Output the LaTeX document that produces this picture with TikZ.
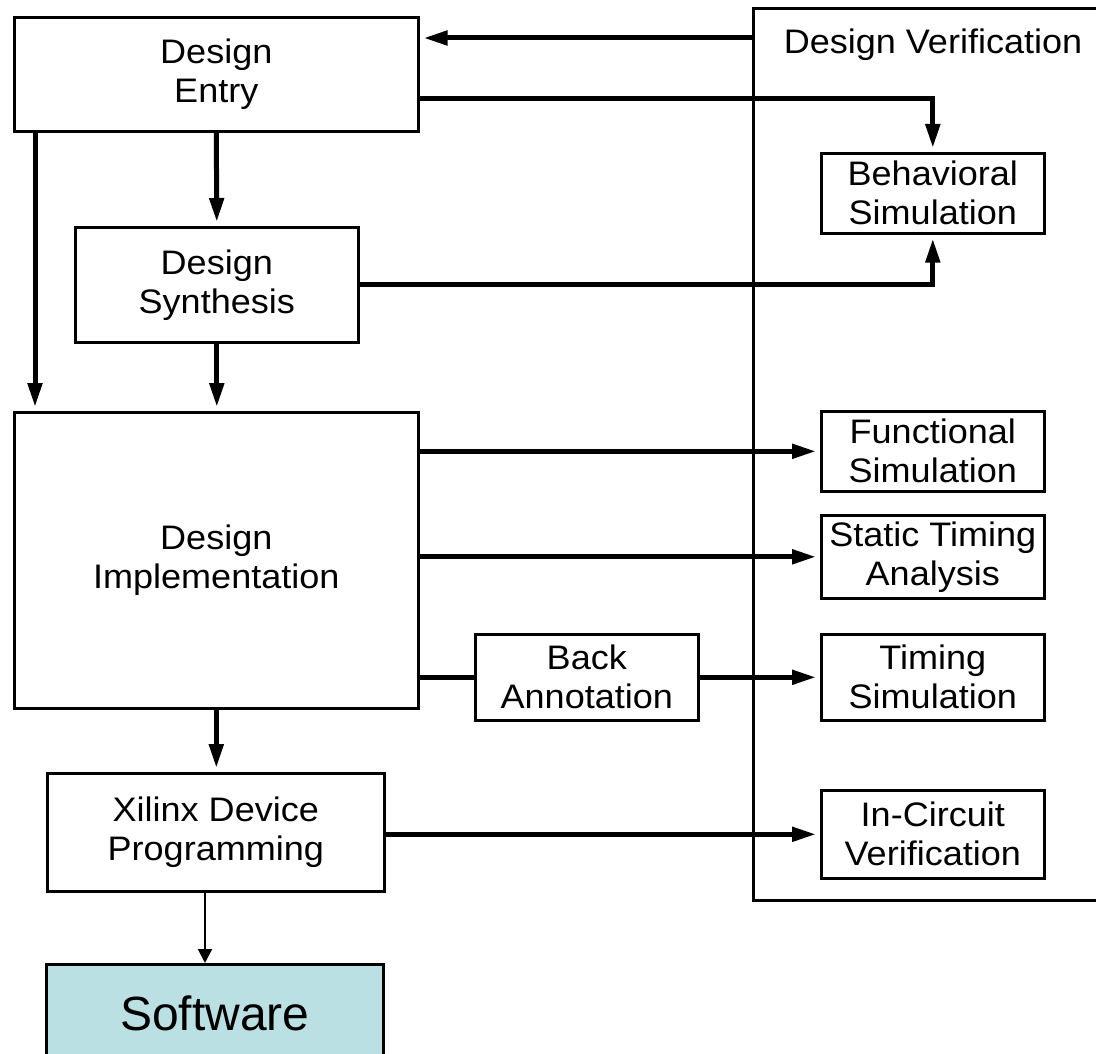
\documentclass[tikz,border=0pt]{standalone}
\usepackage{fontspec}
\setmainfont{Liberation Sans}[FakeStretch=1.06]
\newfontfamily\swfont{Liberation Sans}
\usetikzlibrary{arrows.meta}
\definecolor{swfill}{RGB}{187,224,227}
\tikzset{
  box/.style={draw=black, line width=2.6pt, anchor=north west, inner sep=0pt,
    align=center, font=\fontsize{34}{39}\selectfont},
  flow/.style={line width=5pt, -{Triangle[length=24pt,width=14pt]}, shorten >=4pt},
  flowplain/.style={line width=5pt},
  thinflow/.style={line width=2pt, -{Triangle[length=14pt,width=14pt]}}
}
\begin{document}
\begin{tikzpicture}[x=1pt, y=-1pt]
\clip (0,0) rectangle (1096,1054);
\fill[white] (0,0) rectangle (1096,1054);

% verification frame and its label
\node[box, line width=3pt, minimum width=348pt, minimum height=892pt] (dv) at (752,7) {};
\node[font=\fontsize{34}{39}\selectfont, inner sep=0pt] (dvlabel) at (933,45) {Design Verification};

% main flow blocks
\node[box, minimum width=404pt, minimum height=114pt] (de) at (13,16) {Design\\Entry};
\node[box, minimum width=283pt, minimum height=115pt] (syn) at (74,226) {Design\\Synthesis};
\node[box, minimum width=404pt, minimum height=296pt] (impl) at (13,411) {Design\\Implementation};
\node[box, minimum width=337pt, minimum height=118pt] (xil) at (46,772) {Xilinx Device\\Programming};
\node[box, fill=swfill, minimum width=337pt, minimum height=99pt, font=\swfont\fontsize{48}{52}\selectfont] (sw) at (45,963) {\raisebox{2pt}{Software}};
\node[box, minimum width=223pt, minimum height=86pt] (back) at (474,633) {Back\\Annotation};

% verification steps
\node[box, minimum width=223pt, minimum height=80pt] (beh) at (820,152) {Behavioral\\Simulation};
\node[box, minimum width=223pt, minimum height=80pt] (fun) at (820,410) {Functional\\Simulation};
\node[box, minimum width=223pt, minimum height=83pt] (sta) at (820,514) {Static Timing\\Analysis};
\node[box, minimum width=223pt, minimum height=86pt] (tim) at (820,633) {Timing\\Simulation};
\node[box, minimum width=223pt, minimum height=88pt] (inc) at (820,789) {In-Circuit\\Verification};

% connectors
\draw[flow] (dv.west |- 0,38) -- (de.east |- 0,38);
\draw[flow] (de.east |- 0,99) -| (beh.north);
\draw[flow] (de.south) -- (syn.north);
\draw[flow] (de.south -| 35,0) -- (impl.north -| 35,0);
\draw[flow] (syn.east) -| (beh.south);
\draw[flow] (syn.south) -- (impl.north -| syn.south);
\draw[flow] (impl.east |- fun.west) -- (fun.west);
\draw[flow] (impl.east |- sta.west) -- (sta.west);
\draw[flowplain] (impl.east |- back.west) -- (back.west);
\draw[flow] (back.east) -- (tim.west);
\draw[flow] (impl.south) -- (xil.north -| impl.south);
\draw[flow] (xil.east |- inc.west) -- (inc.west);
\draw[thinflow] (xil.south -| 205,0) -- (sw.north -| 205,0);
\end{tikzpicture}
\end{document}
